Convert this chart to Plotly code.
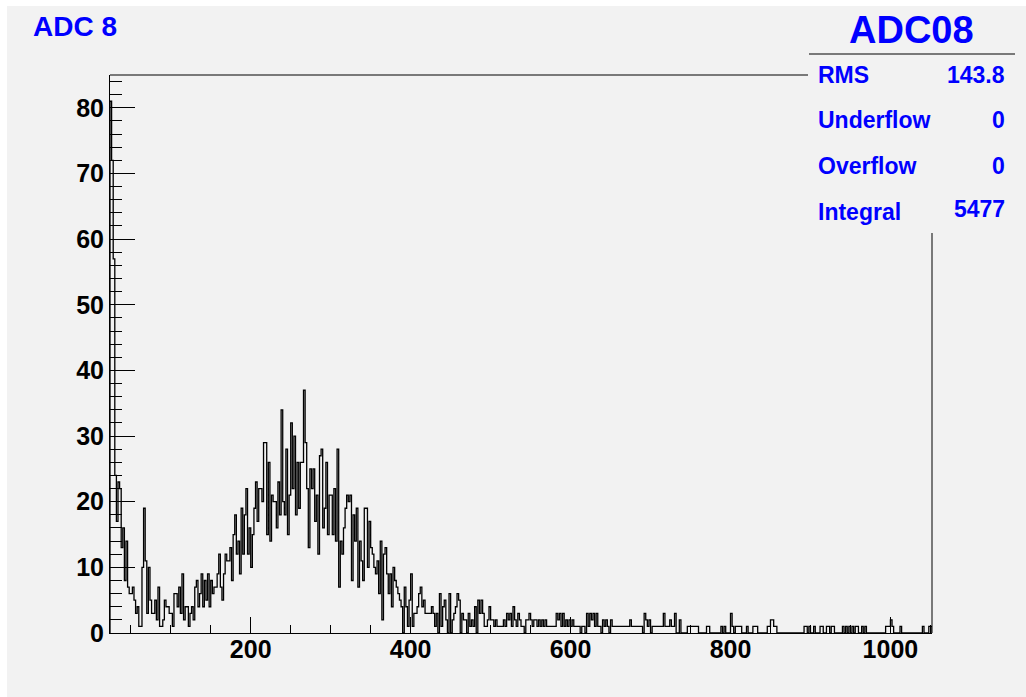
import plotly.graph_objects as go

# ---------------- data ----------------
x_low = 24      # low edge of first bin
bin_width = 2   # width of each bin

counts_024_200 = [
    81, 72, 57, 24, 17, 23, 22, 13, 16, 8,
    14, 7, 6, 6, 7, 5, 3, 4, 1, 1,
    10, 19, 11, 3, 10, 5, 3, 3, 5, 2,
    7, 1, 1, 2, 5, 4, 4, 3, 3, 1,
    6, 6, 4, 7, 3, 9, 2, 4, 4, 1,
    3, 4, 2, 7, 8, 4, 6, 9, 4, 8,
    5, 9, 4, 8, 6, 7, 7, 9, 12, 7,
    5, 9, 12, 11, 11, 13, 8, 15, 18, 12,
    14, 9, 19, 12, 18, 22, 12, 16,
]
counts_200_324 = [
    10, 15, 19, 23, 17, 22, 22, 20, 29, 29,
    15, 26, 14, 21, 20, 20, 16, 23, 18, 34,
    20, 18, 28, 15, 21, 32, 22, 30, 18, 26,
    19, 26, 26, 37, 29, 22, 13, 25, 22, 25,
    17, 21, 12, 27, 28, 16, 19, 26, 15, 21,
    21, 15, 22, 14, 28, 7, 14, 12, 16, 19,
    21, 20,
]
counts_324_486 = [
    21, 8, 18, 14, 19, 7, 14, 11, 8, 19,
    19, 10, 17, 13, 12, 10, 9, 11, 6, 14,
    2, 12, 13, 9, 6, 9, 4, 10, 8, 7,
    6, 5, 4, 0, 7, 4, 1, 5, 9, 1,
    3, 3, 4, 6, 7, 4, 5, 3, 3, 3,
    3, 4, 3, 1, 3, 0, 6, 1, 4, 5,
    2, 0, 6, 0, 2, 3, 4, 6, 5, 0,
    3, 2, 2, 0, 3, 1, 2, 1, 4, 0,
    5,
]
counts_486_712 = [
    3, 5, 3, 1, 1, 2, 4, 2, 2, 1,
    2, 1, 1, 1, 1, 2, 1, 3, 2, 3,
    1, 4, 2, 1, 3, 2, 1, 1, 0, 2,
    2, 3, 2, 1, 2, 2, 1, 2, 1, 2,
    1, 2, 1, 1, 1, 1, 1, 1, 3, 2,
    3, 1, 3, 1, 2, 1, 2, 1, 2, 1,
    1, 1, 1, 0, 1, 1, 0, 3, 1, 3,
    2, 3, 1, 3, 1, 1, 0, 2, 1, 2,
    1, 0, 2, 1, 1, 1, 1, 1, 1, 1,
    1, 1, 1, 1, 2, 1, 1, 1, 1, 1,
    1, 1, 0, 3, 2, 1, 2, 0, 1, 1,
    1, 1, 1,
]
counts_712_1052 = [
    1, 1, 3, 1, 1, 1, 2, 1, 1, 3,
    0, 0, 2, 0, 0, 0, 0, 1, 1, 1,
    1, 1, 1, 1, 0, 0, 0, 0, 0, 1,
    1, 0, 0, 0, 0, 0, 0, 0, 1, 0,
    1, 0, 0, 0, 3, 1, 0, 1, 1, 1,
    1, 0, 0, 0, 1, 0, 0, 0, 1, 1,
    1, 0, 0, 0, 0, 0, 0, 1, 1, 2,
    2, 1, 1, 0, 0, 0, 0, 0, 0, 0,
    0, 0, 0, 0, 0, 0, 0, 0, 0, 0,
    1, 1, 0, 1, 0, 0, 1, 0, 0, 0,
    1, 1, 0, 0, 1, 1, 0, 1, 1, 0,
    0, 0, 0, 0, 1, 0, 1, 0, 1, 0,
    1, 0, 1, 1, 0, 0, 1, 0, 1, 0,
    0, 0, 0, 0, 0, 0, 0, 0, 0, 0,
    0, 1, 1, 1, 2, 1, 0, 0, 0, 0,
    1, 0, 0, 0, 0, 0, 0, 0, 0, 0,
    0, 0, 0, 0, 1, 0, 0, 0, 1, 1,
]

hist_name = "ADC08"
pad_title = "ADC 8"
stat_labels = ["RMS", "Underflow", "Overflow", "Integral"]
stat_values = ["143.8", "0", "0", "5477"]

x_range = [24, 1052]
y_range = [0, 85]

# ---------------- build ----------------
counts = counts_024_200 + counts_200_324 + counts_324_486 + counts_486_712 + counts_712_1052
edges = [x_low + bin_width * i for i in range(len(counts) + 1)]
xs = [edges[0]] + edges[:-1] + [edges[-1], edges[-1]]
ys = [0] + counts + [counts[-1], 0]

W, H = 1026, 697
ML, MR, MT, MB = 110, 94, 75, 64
PW, PH = W - ML - MR, H - MT - MB


def px(p):
    return (p - ML) / PW


def py(p):
    return (H - MB - p) / PH


FONT = "Liberation Sans, Arial, Helvetica, sans-serif"
BLUE = "#0000ff"

fig = go.Figure()
fig.add_trace(go.Scatter(
    x=xs, y=ys, mode="lines", line=dict(color="black", width=1.3, shape="hv"),
    hoverinfo="skip", showlegend=False,
))

fig.update_layout(
    width=W, height=H,
    margin=dict(l=ML, r=MR, t=MT, b=MB, pad=0),
    paper_bgcolor="#f2f2f2", plot_bgcolor="#f2f2f2",
    font=dict(family=FONT, color="black"),
    showlegend=False,
)

fig.update_xaxes(
    range=x_range, showline=True, linecolor="black", linewidth=1,
    ticks="inside", ticklen=16, tickwidth=1, tickcolor="black",
    tick0=0, dtick=200, showgrid=False, zeroline=False,
    ticklabelstandoff=-6,
    tickfont=dict(family=FONT, size=25, color="black", weight="bold"),
    minor=dict(ticks="inside", ticklen=8, tickcolor="black", tickwidth=1,
               tick0=0, dtick=50, showgrid=False),
)
fig.update_yaxes(
    range=y_range, showline=True, linecolor="black", linewidth=1,
    ticks="inside", ticklen=25, tickwidth=1, tickcolor="black",
    tick0=0, dtick=10, showgrid=False, zeroline=False,
    tickfont=dict(family=FONT, size=25, color="black", weight="bold"),
    minor=dict(ticks="inside", ticklen=12, tickcolor="black", tickwidth=1,
               tick0=0, dtick=2, showgrid=False),
)

shapes = [
    # white border strips of the canvas
    dict(type="rect", xref="paper", yref="paper", x0=px(0), x1=px(7), y0=py(H), y1=py(0),
         fillcolor="white", line=dict(width=0), layer="above"),
    dict(type="rect", xref="paper", yref="paper", x0=px(0), x1=px(W), y0=py(6), y1=py(0),
         fillcolor="white", line=dict(width=0), layer="above"),
    # frame: top and right
    dict(type="line", xref="paper", yref="paper", x0=0, x1=px(808), y0=1, y1=1,
         line=dict(color="black", width=1)),
    dict(type="line", xref="paper", yref="paper", x0=1, x1=1, y0=0, y1=py(233),
         line=dict(color="black", width=1)),
    # stats box title underline
    dict(type="line", xref="paper", yref="paper", x0=px(809), x1=px(1015), y0=py(54), y1=py(54),
         line=dict(color="black", width=1)),
]
fig.update_layout(shapes=shapes)

ann = []
ann.append(dict(text=pad_title, x=px(31), y=py(26), xanchor="left", yanchor="middle",
                font=dict(family=FONT, size=28, color=BLUE, weight="bold")))
ann.append(dict(text=hist_name, x=px(911), y=py(30), xanchor="center", yanchor="middle",
                font=dict(family=FONT, size=38, color=BLUE, weight="bold")))
row_y = [75, 120, 166, 212]
val_y = [75, 120, 166, 209]
for lab, val, yl, yv in zip(stat_labels, stat_values, row_y, val_y):
    ann.append(dict(text=lab, x=px(816), y=py(yl), xanchor="left", yanchor="middle",
                    font=dict(family=FONT, size=23, color=BLUE, weight="bold")))
    ann.append(dict(text=val, x=px(1007), y=py(yv), xanchor="right", yanchor="middle",
                    font=dict(family=FONT, size=23, color=BLUE, weight="bold")))
for a in ann:
    a.update(xref="paper", yref="paper", showarrow=False)
fig.update_layout(annotations=ann)

fig.write_html("out.html")
